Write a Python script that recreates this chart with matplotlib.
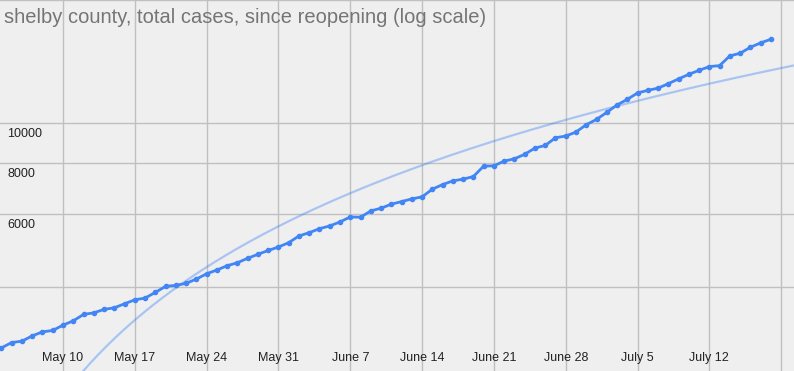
import numpy as np
import pandas as pd
import matplotlib
matplotlib.use('Agg')
import matplotlib.pyplot as plt
import matplotlib.dates as mdates
import matplotlib.transforms as mtransforms

plt.rcParams['font.family'] = ['Liberation Sans', 'DejaVu Sans']

# daily totals, May 4 .. July 18
start_date = '2020-05-04'
cases = [
    2835, 2922, 2944, 3033, 3102, 3127, 3221, 3300, 3421, 3452,
    3519, 3551, 3632, 3714, 3750, 3872, 4005, 4028, 4074, 4173,
    4299, 4390, 4497, 4574, 4689, 4796, 4899, 4996, 5119, 5316,
    5415, 5538, 5623, 5751, 5915, 5905, 6118, 6212, 6353, 6447,
    6546, 6620, 6913, 7094, 7243, 7313, 7421, 7868, 7882, 8093,
    8198, 8409, 8707, 8836, 9227, 9316, 9528, 9927, 10228, 10639,
    11091, 11446, 11866, 12041, 12191, 12503, 12839, 13175, 13475, 13759,
    13836, 14613, 14828, 15337, 15721, 16043,
]
y_grid = [4000, 6000, 8000, 10000, 20000]
y_labels = [6000, 8000, 10000]
week_grid = pd.date_range('2020-05-10', '2020-07-19', freq='7D')
week_labels = week_grid[:-1]

title = 'shelby county, total cases, since reopening (log scale)'

dates = pd.date_range(start_date, periods=len(cases), freq='D')
x = mdates.date2num(dates)
y = np.array(cases, dtype=float)

# linear trendline, like the sheets one
coef = np.polyfit(x, y, 1)

fig = plt.figure(figsize=(7.94, 3.71), dpi=100)
fig.patch.set_facecolor('#efefef')
ax = fig.add_axes([0, 0, 1, 1])
ax.set_facecolor('#efefef')

x0 = x[0] - 0.14
x1 = mdates.date2num(pd.Timestamp('2020-07-20 06:00'))
ax.set_xlim(x0, x1)
ax.set_yscale('log')
ax.set_ylim(2490, 20000)

for g in y_grid:
    ax.axhline(g, color='#c0c0c0', lw=1, zorder=1)
for d in week_grid:
    ax.axvline(mdates.date2num(d), color='#c0c0c0', lw=1, zorder=1)

xt = np.linspace(x0, x1, 300)
yt = np.polyval(coef, xt)
mask = yt > 0
ax.plot(xt[mask], yt[mask], color='#4285f4', alpha=0.4, lw=1.6, zorder=2)

ax.plot(x, y, color='#4285f4', lw=2, marker='o', ms=3, zorder=3)

for s in ax.spines.values():
    s.set_visible(False)
ax.set_xticks([])
ax.set_yticks([])
ax.minorticks_off()

trans_y = mtransforms.blended_transform_factory(ax.transAxes, ax.transData)
for v in y_labels:
    ax.text(0.009, v * 0.975, str(v), transform=trans_y, ha='left', va='top',
            fontsize=9, color='#222222')

trans_x = mtransforms.blended_transform_factory(ax.transData, ax.transAxes)
for d in week_labels:
    ax.text(mdates.date2num(d), 0.018, f'{d:%B} {d.day}', transform=trans_x,
            ha='center', va='bottom', fontsize=9, color='#222222')

ax.text(0.005, 0.978, title, transform=ax.transAxes, ha='left', va='top',
        fontsize=14.5, color='#757575')

fig.savefig('out.png', dpi=100, facecolor=fig.get_facecolor())
